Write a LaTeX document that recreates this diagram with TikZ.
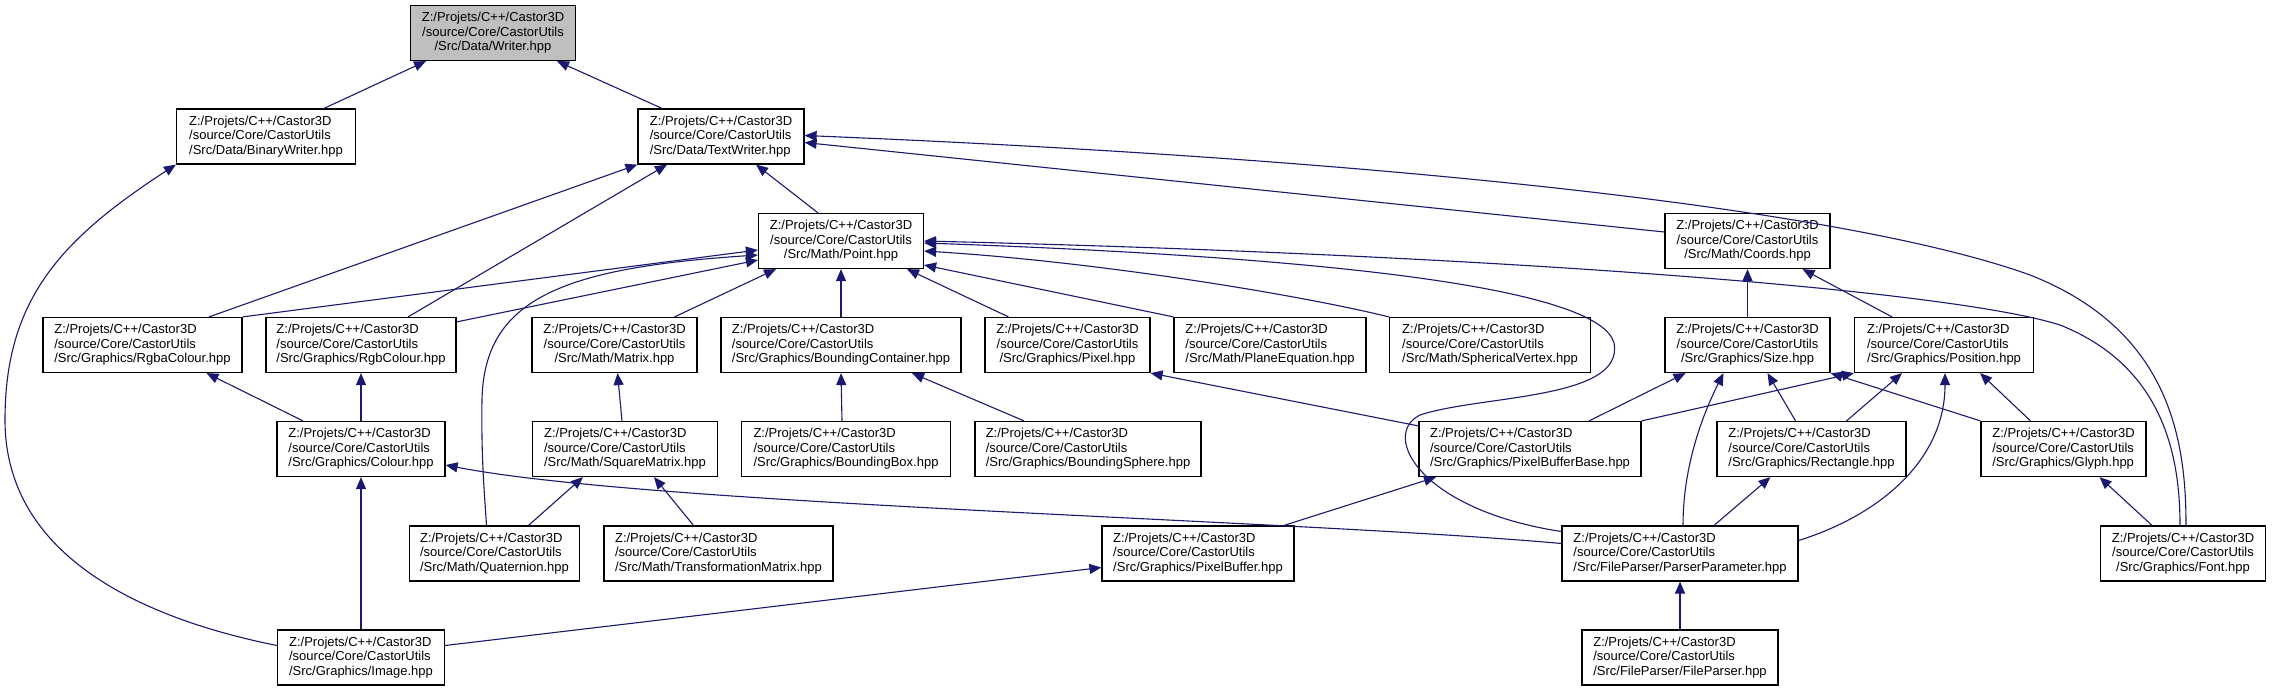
\documentclass[tikz,border=0pt]{standalone}
\usepackage{fontspec}
\setmainfont{Liberation Sans}
\usepackage{xcolor}
\usepackage{tikz}
\usetikzlibrary{arrows.meta}
\definecolor{edgeblue}{HTML}{191970}
\newcommand{\cupath}[1]{Z:/Projets/C++/Castor3D\\/source/Core/CastorUtils\\/Src/#1}

\begin{document}
\begin{tikzpicture}[x=1pt,y=-1pt,
    file/.style={draw=black,line width=1.2pt,fill=white,inner sep=0pt,minimum height=55pt,font=\fontsize{13}{14.5}\selectfont},
    dep/.style={draw=edgeblue,line width=1.1pt,{Triangle[length=12pt,width=10pt]}-}]
    \fill[white] (0,0) rectangle (2272,691);
    \node[file,fill=black!25,align=center,minimum width=165] (writer) at (493,33) {\cupath{Data/Writer.hpp}};
    \foreach \nm/\x/\y/\w/\lab in {binwriter/266/136.5/179/{Data/BinaryWriter.hpp},
      textwriter/721/136.5/166/{Data/TextWriter.hpp},
      rgba/142.5/345/199/{Graphics/RgbaColour.hpp},
      rgb/361/345/190/{Graphics/RgbColour.hpp},
      bcont/841/345/240/{Graphics/BoundingContainer.hpp},
      plane/1270/345/192/{Math/PlaneEquation.hpp},
      sphvert/1490/345/201/{Math/SphericalVertex.hpp},
      position/1944/345/179/{Graphics/Position.hpp},
      colour/361/449/168/{Graphics/Colour.hpp},
      sqmatrix/625/449/185/{Math/SquareMatrix.hpp},
      bbox/846/449/209/{Graphics/BoundingBox.hpp},
      bsphere/1088/449/226/{Graphics/BoundingSphere.hpp},
      pbbase/1530/449/222/{Graphics/PixelBufferBase.hpp},
      rectangle/1811.5/449/189/{Graphics/Rectangle.hpp},
      glyph/2063.5/449/165/{Graphics/Glyph.hpp},
      quaternion/494.5/553.5/170/{Math/Quaternion.hpp},
      transmatrix/718.5/553.5/229/{Math/TransformationMatrix.hpp},
      pixelbuffer/1198/553.5/192/{Graphics/PixelBuffer.hpp},
      parserparam/1680/553.5/236/{FileParser/ParserParameter.hpp},
      image/361/657.5/167/{Graphics/Image.hpp},
      fileparser/1680/657.5/196/{FileParser/FileParser.hpp}}{
      \node[file,align=left,minimum width=\w] (\nm) at (\x,\y) {\cupath{\lab}};
    }
    \foreach \nm/\x/\y/\w/\lab in {point/841/241/165/{Math/Point.hpp},
      coords/1747.5/241/165/{Math/Coords.hpp},
      matrix/614.5/345/165/{Math/Matrix.hpp},
      pixel/1067.5/345/165/{Graphics/Pixel.hpp},
      size/1747.5/345/165/{Graphics/Size.hpp},
      font/2183/553.5/165/{Graphics/Font.hpp}}{
      \node[file,align=center,minimum width=\w] (\nm) at (\x,\y) {\cupath{\lab}};
    }
    \draw[dep] ([xshift=-67]writer.south) -- ([xshift=58]binwriter.north);
    \draw[dep] ([xshift=64]writer.south) -- ([xshift=-59]textwriter.north);
    \draw[dep] (binwriter.south west) .. controls (60,240) and (5,300) .. (5,420) .. controls (5,560) and (150,620) .. ([yshift=12]image.west);
    \draw[dep] (textwriter.south west) -- ([xshift=66.5]rgba.north);
    \draw[dep] ([xshift=-54]textwriter.south) -- ([xshift=47]rgb.north);
    \draw[dep] ([xshift=35]textwriter.south) -- ([xshift=-23]point.north);
    \draw[dep] ([yshift=-6]textwriter.east) -- ([yshift=9]coords.west);
    \draw[dep] ([yshift=1]textwriter.east) .. controls (1400,160) and (1850,210) .. (2030,275) .. controls (2170,330) and (2186,440) .. ([xshift=3]font.north);
    \draw[dep] ([yshift=-9]point.west) -- (rgba.north east);
    \draw[dep] ([yshift=-19]point.west) -- ([yshift=-5]rgb.north east);
    \draw[dep] ([yshift=-14]point.west) .. controls (560,268) and (484,300) .. (482,400) .. controls (481,460) and (485,500) .. ([xshift=-8]quaternion.north);
    \draw[dep] ([xshift=-65]point.south) -- ([xshift=60]matrix.north);
    \draw[dep] (point.south) -- (bcont.north);
    \draw[dep] ([xshift=66]point.south) -- ([xshift=-59]pixel.north);
    \draw[dep] ([yshift=-24]point.east) -- (plane.north west);
    \draw[dep] ([yshift=-10]point.east) .. controls (1100,262) and (1300,295) .. (sphvert.north west);
    \draw[dep] ([yshift=-2]point.east) .. controls (1350,258) and (1600,290) .. (1614,343) .. controls (1625,400) and (1480,395) .. (1420,415) .. controls (1380,435) and (1420,510) .. ([yshift=22]parserparam.west);
    \draw[dep] (point.east) .. controls (1500,255) and (1950,290) .. (2060,325) .. controls (2160,365) and (2180,450) .. ([xshift=-3]font.north);
    \draw[dep] (coords.south) -- (size.north);
    \draw[dep] ([xshift=55]coords.south) -- ([xshift=-52]position.north);
    \draw[dep] ([xshift=-62]size.south) -- ([xshift=59]pbbase.north);
    \draw[dep] ([xshift=-24]size.south) .. controls (1700,420) and (1683,470) .. ([xshift=3]parserparam.north);
    \draw[dep] ([xshift=20]size.south) -- ([xshift=-16]rectangle.north);
    \draw[dep] (size.south east) -- (glyph.north west);
    \draw[dep] (position.south west) -- (pbbase.north east);
    \draw[dep] ([xshift=-42]position.south) -- ([xshift=35]rectangle.north);
    \draw[dep] ([xshift=1]position.south) .. controls (1945,460) and (1880,515) .. ([yshift=13]parserparam.east);
    \draw[dep] ([xshift=36]position.south) -- ([xshift=-33]glyph.north);
    \draw[dep] ([xshift=64]rgba.south) -- ([xshift=-58]colour.north);
    \draw[dep] (rgb.south) -- (colour.north);
    \draw[dep] (colour.south) -- (image.north);
    \draw[dep] ([yshift=-16]colour.east) .. controls (650,505) and (1300,520) .. ([yshift=10]parserparam.west);
    \draw[dep] ([xshift=3]matrix.south) -- ([xshift=-3]sqmatrix.north);
    \draw[dep] ([xshift=-42]sqmatrix.south) -- ([xshift=34]quaternion.north);
    \draw[dep] ([xshift=29]sqmatrix.south) -- ([xshift=-25]transmatrix.north);
    \draw[dep] (bcont.south) -- ([xshift=-4]bbox.north);
    \draw[dep] ([xshift=71]bcont.south) -- ([xshift=-64]bsphere.north);
    \draw[dep] (pixel.south east) -- ([yshift=-5]pbbase.north west);
    \draw[dep] ([xshift=-94]pbbase.south) -- ([xshift=86]pixelbuffer.north);
    \draw[dep] (parserparam.south) -- (fileparser.north);
    \draw[dep] ([xshift=-41]rectangle.south) -- ([xshift=34]parserparam.north);
    \draw[dep] ([xshift=36]glyph.south) -- ([xshift=-31]font.north);
    \draw[dep] ([yshift=-14]pixelbuffer.west) -- ([yshift=12]image.east);
\end{tikzpicture}
\end{document}
